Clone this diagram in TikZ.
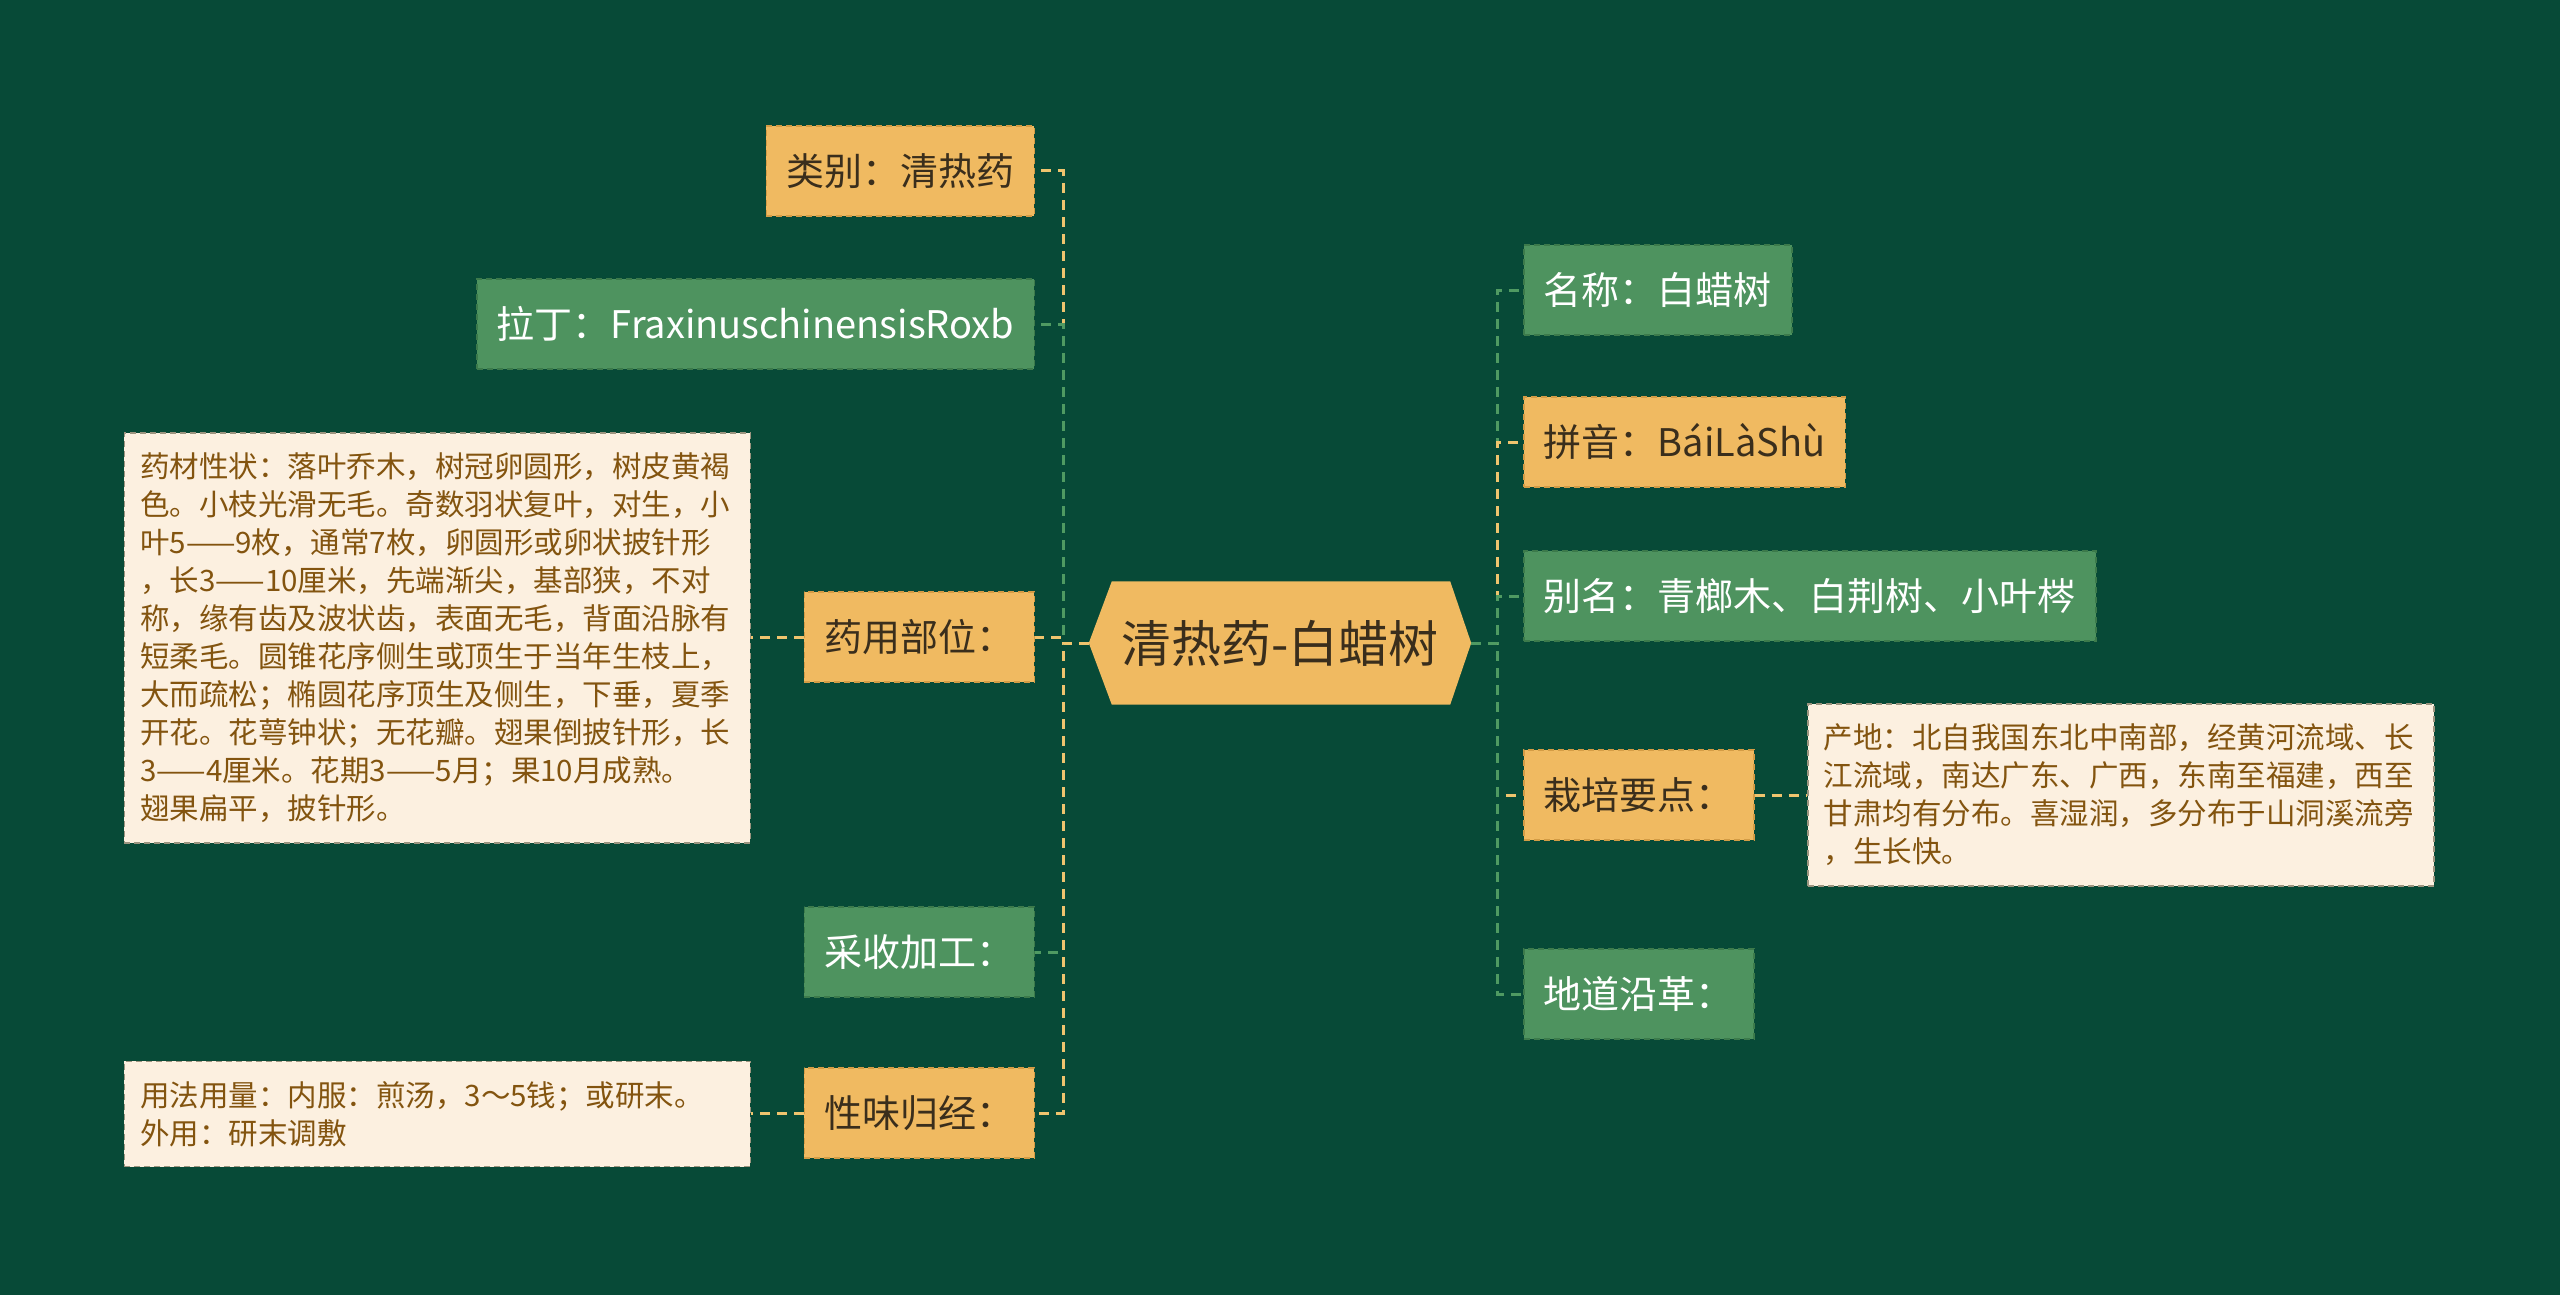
\documentclass[tikz,border=0pt]{standalone}
\usepackage{fontspec}
\setmainfont{Noto Sans CJK SC}
\definecolor{bg}{HTML}{074A37}
\definecolor{boxY}{HTML}{F0BA61}
\definecolor{boxYd}{HTML}{D49C45}
\definecolor{boxG}{HTML}{4E935F}
\definecolor{boxGd}{HTML}{3C7A4B}
\definecolor{boxT}{HTML}{FCF0E0}
\definecolor{boxTd}{HTML}{9C9580}
\definecolor{txtD}{HTML}{3A2E1C}
\definecolor{txtB}{HTML}{83540F}
\definecolor{lnY}{HTML}{EFC46E}
\definecolor{lnG}{HTML}{4F9A62}
\begin{document}
\begin{tikzpicture}[x=1pt,y=-1pt,
  ybox/.style={fill=boxY, draw=boxYd, dash pattern=on 6pt off 4pt, line width=1.5pt, text=txtD,
    font=\fontsize{38}{46}\selectfont, inner xsep=20pt, inner ysep=0pt, minimum height=90pt},
  gbox/.style={fill=boxG, draw=boxGd, dash pattern=on 6pt off 4pt, line width=1.5pt, text=white,
    font=\fontsize{38}{46}\selectfont, inner xsep=20pt, inner ysep=0pt, minimum height=90pt},
  tbox/.style={fill=boxT, draw=boxTd, dash pattern=on 6pt off 4pt, line width=1.5pt, text=txtB,
    font=\fontsize{29.5}{38}\selectfont, text width=594pt, align=left, inner xsep=16pt, inner ysep=20pt},
  yl/.style={draw=lnY, line width=3pt, dash pattern=on 10pt off 7pt},
  gl/.style={draw=lnG, line width=3pt, dash pattern=on 10pt off 7pt}]
\fill[bg] (0,0) rectangle (2560,1295);
\useasboundingbox (0,0) rectangle (2560,1295);

% center
\node[minimum width=382pt, minimum height=123pt, inner sep=0pt] (c) at (1280,643) {};
\fill[boxY] (c.west) -- ([xshift=23pt]c.north west) -- ([xshift=-21pt]c.north east) -- (c.east)
  -- ([xshift=-21pt]c.south east) -- ([xshift=23pt]c.south west) -- cycle;
\node[text=txtD, font=\fontsize{50}{60}\selectfont] (ct) at (c.center) {清热药-白蜡树};

\coordinate (spL) at (1063,643);
\coordinate (spR) at (1497,643);

% left boxes
\node[ybox, anchor=east] (lb1) at (1035,171) {类别：清热药};
\node[gbox, anchor=east] (lb2) at (1035,324) {拉丁：FraxinuschinensisRoxb};
\node[ybox, anchor=east] (lb3) at (1035,637) {药用部位：};
\node[gbox, anchor=east] (lb4) at (1035,952) {采收加工：};
\node[ybox, anchor=east] (lb5) at (1035,1113) {性味归经：};

% right boxes
\node[gbox, anchor=west] (rb1) at (1523,290) {名称：白蜡树};
\node[ybox, anchor=west] (rb2) at (1523,442) {拼音：BáiLàShù};
\node[gbox, anchor=west] (rb3) at (1523,596) {别名：青榔木、白荆树、小叶梣};
\node[ybox, anchor=west] (rb4) at (1523,795) {栽培要点：};
\node[gbox, anchor=west] (rb5) at (1523,994) {地道沿革：};

% text boxes
\node[tbox, anchor=east] (t1) at (751,638) {药材性状：落叶乔木，树冠卵圆形，树皮黄褐\\色。小枝光滑无毛。奇数羽状复叶，对生，小\\叶5——9枚，通常7枚，卵圆形或卵状披针形\\，长3——10厘米，先端渐尖，基部狭，不对\\称，缘有齿及波状齿，表面无毛，背面沿脉有\\短柔毛。圆锥花序侧生或顶生于当年生枝上，\\大而疏松；椭圆花序顶生及侧生，下垂，夏季\\开花。花萼钟状；无花瓣。翅果倒披针形，长\\3——4厘米。花期3——5月；果10月成熟。\\翅果扁平，披针形。};
\node[tbox, anchor=east] (t2) at (751,1114) {用法用量：内服：煎汤，3～5钱；或研末。\\外用：研末调敷};
\node[tbox, anchor=west] (t3) at (1807,795) {产地：北自我国东北中南部，经黄河流域、长\\江流域，南达广东、广西，东南至福建，西至\\甘肃均有分布。喜湿润，多分布于山洞溪流旁\\，生长快。};

% connectors left
\begin{scope}[on background layer/.try]
\end{scope}
\draw[yl] (c.west) -- (spL) |- (lb1.east);
\draw[gl] (c.west) -- (spL) |- (lb2.east);
\draw[yl] (c.west) -- (spL) |- (lb3.east);
\draw[gl] (c.west) -- (spL) |- (lb4.east);
\draw[yl] (c.west) -- (spL) |- (lb5.east);
% connectors right
\draw[gl] (c.east) -- (spR) |- (rb1.west);
\draw[yl] (c.east) -- (spR) |- (rb2.west);
\draw[gl] (c.east) -- (spR) |- (rb3.west);
\draw[yl] (c.east) -- (spR) |- (rb4.west);
\draw[gl] (c.east) -- (spR) |- (rb5.west);
% to text boxes
\draw[yl] (lb3.west) -- (t1.east |- lb3.west);
\draw[yl] (lb5.west) -- (t2.east |- lb5.west);
\draw[yl] (rb4.east) -- (t3.west |- rb4.east);
\end{tikzpicture}
\end{document}
